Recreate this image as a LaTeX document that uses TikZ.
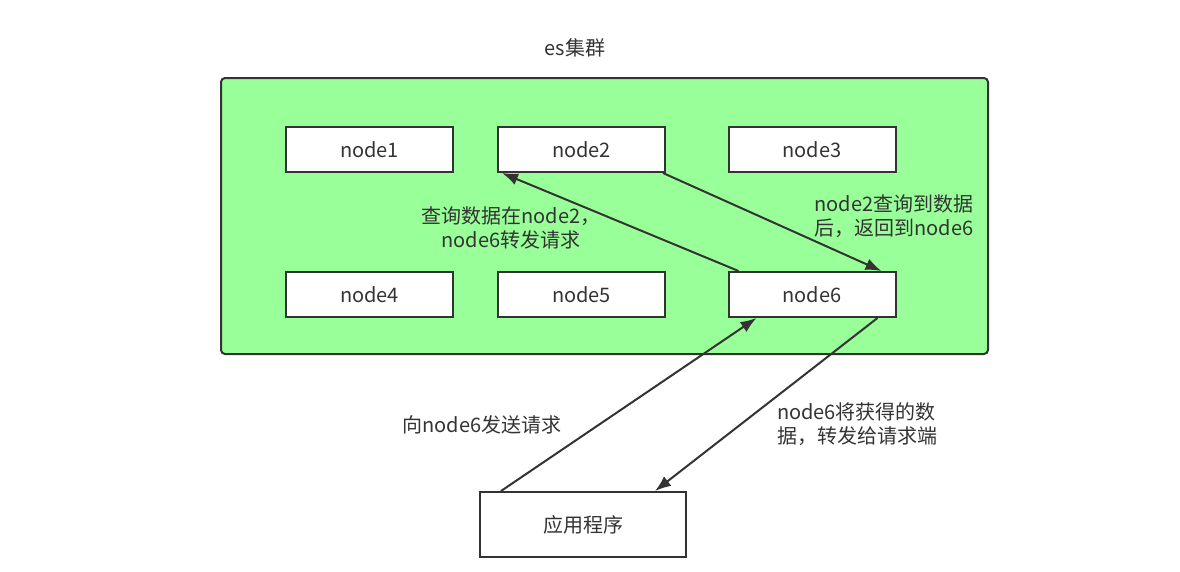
\documentclass[tikz,border=0pt]{standalone}
\usepackage{fontspec}
\setmainfont{Noto Sans CJK SC}
\usetikzlibrary{arrows.meta}
\definecolor{cgreen}{HTML}{99FF99}
\definecolor{cline}{HTML}{333333}
\definecolor{ctext}{HTML}{333333}
\begin{document}
\begin{tikzpicture}[x=1pt,y=-1pt,
  box/.style={draw=cline,line width=2pt,fill=white,minimum width=167pt,minimum height=45pt,inner sep=0pt,font=\fontsize{20}{24}\selectfont,text=ctext},
  lbl/.style={font=\fontsize{20}{24}\selectfont,text=ctext,align=center,inner sep=0pt},
  conn/.style={draw=cline,line width=2pt,-{Latex[length=16pt,width=12pt]}}]
\useasboundingbox (0,0) rectangle (1180,571);
\node[lbl] (title) at (575,48) {es集群};
\draw[cline,line width=2pt,fill=cgreen,rounded corners=4pt] (221,78) rectangle (988,354);
\node[box] (n1) at (369.5,149.5) {node1};
\node[box] (n2) at (581.5,149.5) {node2};
\node[box] (n3) at (812,149.5) {node3};
\node[box] (n4) at (369.5,294.5) {node4};
\node[box] (n5) at (581.5,294.5) {node5};
\node[box] (n6) at (812,294.5) {node6};
\node[box,minimum width=206pt,minimum height=65pt] (app) at (583,524.5) {应用程序};
\draw[conn] ([xshift=11pt]n6.north west) -- ([xshift=5pt]n2.south west);
\draw[conn] ([xshift=-3pt]n2.south east) -- ([xshift=-15pt]n6.north east);
\draw[conn] ([xshift=22pt]app.north west) -- ([xshift=29pt]n6.south west);
\draw[conn] ([xshift=-19pt]n6.south east) -- ([xshift=-32pt]app.north east);
\node[lbl] (l1) at (511,228) {查询数据在node2，\\node6转发请求};
\node[lbl,align=left] (l2) at (894,216.5) {node2查询到数据\\后，返回到node6};
\node[lbl] (l3) at (482,425) {向node6发送请求};
\node[lbl,align=left] (l4) at (857,424.5) {node6将获得的数\\据，转发给请求端};
\end{tikzpicture}
\end{document}
